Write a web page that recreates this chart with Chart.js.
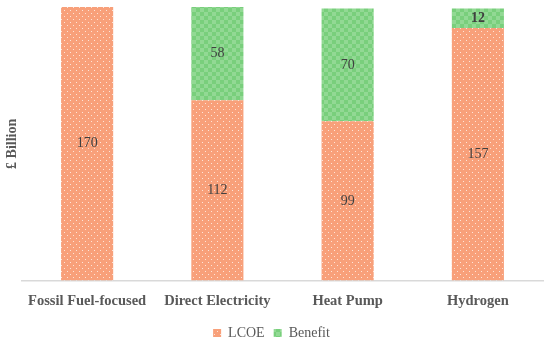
<!DOCTYPE html>
<html>
<head>
<meta charset="utf-8">
<script src="https://cdn.jsdelivr.net/npm/chart.js@4"></script>
<style>
  body { margin: 0; background: #fff; }
  #wrap { width: 550px; height: 346px; }
</style>
</head>
<body>
<div id="wrap"><canvas id="costChart"></canvas></div>
<script>
const categories = ["Fossil Fuel-focused", "Direct Electricity", "Heat Pump", "Hydrogen"];
const lcoeValues = [170, 112, 99, 157];
const benefitValues = [0, 58, 70, 12];

// dotted fill like the original (orange with white dots)
function dotPattern(base, dot) {
  const c = document.createElement("canvas");
  c.width = 6; c.height = 6;
  const g = c.getContext("2d");
  g.fillStyle = base;
  g.fillRect(0, 0, 6, 6);
  g.fillStyle = dot;
  g.fillRect(1, 1, 1, 1);
  g.fillRect(4, 4, 1, 1);
  return g.createPattern(c, "repeat");
}

// checkered green fill
function checkPattern(a, b) {
  const c = document.createElement("canvas");
  c.width = 8; c.height = 8;
  const g = c.getContext("2d");
  g.fillStyle = a;
  g.fillRect(0, 0, 8, 8);
  g.fillStyle = b;
  g.fillRect(0, 0, 4, 4);
  g.fillRect(4, 4, 4, 4);
  return g.createPattern(c, "repeat");
}

const orangeFill = dotPattern("#f8a07a", "#fde4d8");
const greenFill = checkPattern("#79cf7c", "#92d994");

// values in the middle of each segment
const centerLabels = {
  id: "centerLabels",
  afterDatasetsDraw(chart) {
    const ctx = chart.ctx;
    ctx.save();
    ctx.textAlign = "center";
    ctx.textBaseline = "middle";
    chart.data.datasets.forEach((ds, i) => {
      chart.getDatasetMeta(i).data.forEach((bar, j) => {
        const v = ds.data[j];
        if (!v) return;
        const mid = (bar.y + bar.base) / 2;
        ctx.fillStyle = "#404040";
        ctx.font = (v === 12 ? "bold " : "") + "14px 'Liberation Serif', serif";
        ctx.fillText(v, bar.x, mid);
      });
    });
    ctx.restore();
  }
};

new Chart("costChart", {
  type: "bar",
  data: {
    labels: categories,
    datasets: [
      { label: "LCOE", data: lcoeValues, backgroundColor: orangeFill,
        categoryPercentage: 1, barPercentage: 0.4 },
      { label: "Benefit", data: benefitValues, backgroundColor: greenFill,
        categoryPercentage: 1, barPercentage: 0.4 }
    ]
  },
  options: {
    responsive: true,
    maintainAspectRatio: false,
    animation: false,
    layout: { padding: { top: 7, right: 7, left: 0, bottom: -4 } },
    scales: {
      x: {
        stacked: true,
        grid: { display: false },
        border: { color: "#d9d9d9", width: 1.5 },
        ticks: {
          color: "#595959",
          font: { family: "'Liberation Serif', serif", size: 14.5, weight: "bold" },
          padding: 4
        },
        afterFit(scale) { scale.height += 3; }
      },
      y: {
        stacked: true,
        min: 0,
        max: 170,
        grid: { display: false },
        border: { display: false },
        ticks: { display: false },
        title: {
          display: true,
          text: "£ Billion",
          color: "#595959",
          font: { family: "'Liberation Serif', serif", size: 14, weight: "bold" },
          padding: { top: 4, bottom: 2 }
        },
        afterFit(scale) { scale.width = 22; }
      }
    },
    plugins: {
      legend: {
        position: "bottom",
        labels: {
          boxWidth: 8,
          boxHeight: 8,
          color: "#595959",
          padding: 9,
          font: { family: "'Liberation Serif', serif", size: 14 }
        }
      },
      tooltip: { enabled: false }
    }
  },
  plugins: [centerLabels]
});
</script>
</body>
</html>
